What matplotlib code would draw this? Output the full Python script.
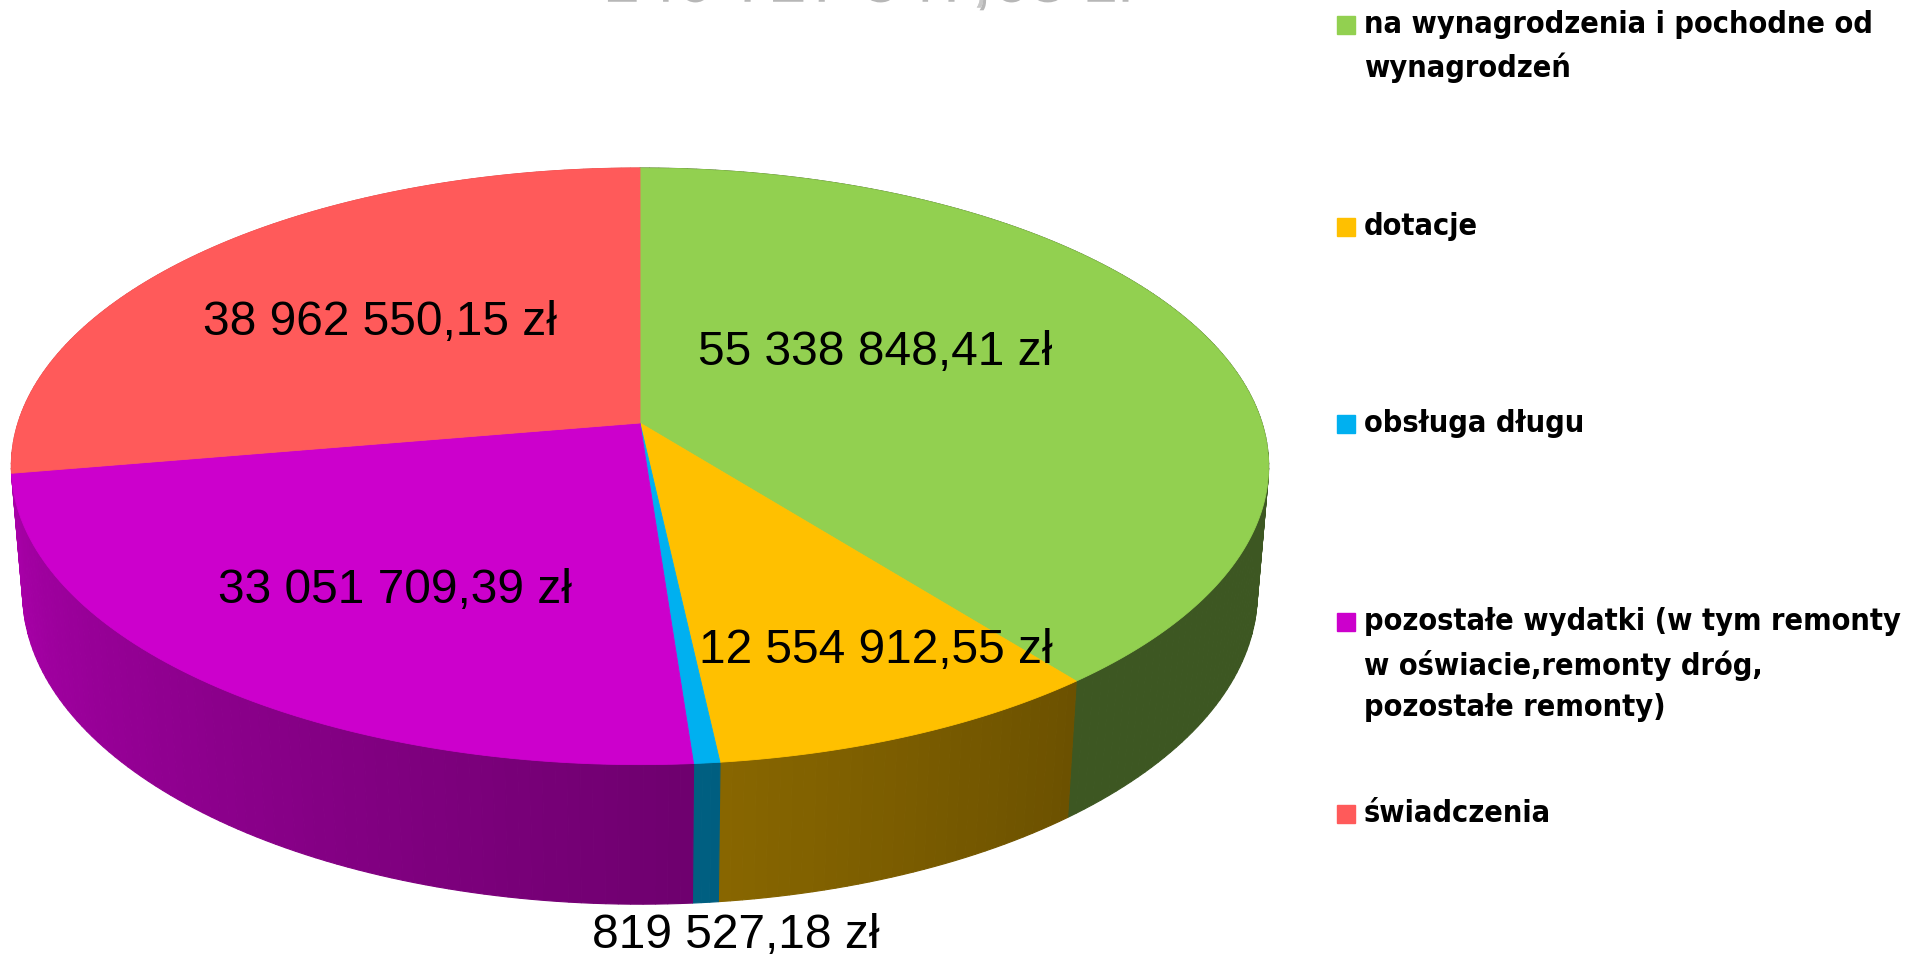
import numpy as np
import matplotlib.pyplot as plt
import matplotlib.patheffects as pe
from matplotlib.patches import Rectangle
from matplotlib.colors import to_rgb
from matplotlib import font_manager

categories = [
    "na wynagrodzenia i pochodne od\nwynagrodzeń",
    "dotacje",
    "obsługa długu",
    "pozostałe wydatki (w tym remonty\nw oświacie,remonty dróg,\npozostałe remonty)",
    "świadczenia",
]
values = [55338848.41, 12554912.55, 819527.18, 33051709.39, 38962550.15]
colors = ["#92D050", "#FFC000", "#00B0F0", "#CC00CC", "#FF5A5A"]


def pln(v):
    return f"{v:,.2f}".replace(",", " ").replace(".", ",") + " zł"


# 3D pie geometry (pixel space of a 1913x955 canvas)
W, H = 1913, 955
cx, cy, scale = 640, 423, 622
elev = np.radians(28)
dist = 6.08
depth = 0.233


def project(theta, z):
    x, y = np.sin(theta), np.cos(theta)
    v = y * np.sin(elev) + z * np.cos(elev)
    w = y * np.cos(elev) - z * np.sin(elev)
    f = dist / (dist + w)
    return cx + scale * x * f, cy - scale * v * f, w


def shade(deg):
    t = np.clip((deg - 141) / (265 - 141), 0, 1)
    return 0.42 + 0.43 * t


fig = plt.figure(figsize=(W / 100, H / 100), dpi=100)
ax = fig.add_axes([0, 0, 1, 1])
ax.set_xlim(0, W)
ax.set_ylim(H, 0)
ax.axis("off")

frac = np.array(values) / np.sum(values)
edges = np.concatenate([[0], np.cumsum(frac)]) * 2 * np.pi

# side walls, split into thin strips for the shading gradient
strips = []
for i, col in enumerate(colors):
    t0, t1 = edges[i], edges[i + 1]
    n = max(2, int(np.ceil(np.degrees(t1 - t0))))
    ts = np.linspace(t0, t1, n + 1)
    for a, b in zip(ts[:-1], ts[1:]):
        xa, ya, _ = project(a, 0)
        xb, yb, _ = project(b, 0)
        xa2, ya2, _ = project(a, -depth)
        xb2, yb2, _ = project(b, -depth)
        wm = project((a + b) / 2, -depth / 2)[2]
        c = np.array(to_rgb(col)) * shade(np.degrees((a + b) / 2))
        strips.append((wm, [xa, xb, xb2, xa2], [ya, yb, yb2, ya2], c))
for wm, xs, ys, c in sorted(strips, key=lambda s: -s[0]):
    ax.fill(xs, ys, color=c, lw=0.8, ec=c)

# top faces
for i, col in enumerate(colors):
    ts = np.linspace(edges[i], edges[i + 1], 200)
    px, py, _ = project(ts, 0)
    ax.fill(np.r_[cx, px], np.r_[cy, py], color=col, ec=col, lw=0.6)

# value labels
label_pos = [(875, 365), (876, 663), (736, 948), (395, 603), (380, 335)]
for v, (lx, ly) in zip(values, label_pos):
    ax.text(lx, ly, pln(v), ha="center", va="baseline", fontsize=34.5,
            family="Liberation Sans", color="black")

# title (mostly cut off at the top)
ax.text(865, -1, pln(sum(values)), ha="center", va="baseline", fontsize=48,
        family="Liberation Sans", color="#C8C8C8",
        path_effects=[pe.withSimplePatchShadow(offset=(2, -2), shadow_rgbFace="#707070", alpha=0.5),
                      pe.Normal()])

# legend
names = {f.name for f in font_manager.fontManager.ttflist}
leg_family = "Liberation Sans Narrow" if "Liberation Sans Narrow" in names else "DejaVu Sans"
leg_base = np.linspace(35, 824, len(categories)) + np.array([0, 5, 4, 5, 0])
for lab, col, yb in zip(categories, colors, leg_base):
    ax.add_patch(Rectangle((1337, yb - 19), 18, 18, color=col))
    ax.text(1364, yb - 25, lab, ha="left", va="top", fontsize=22,
            family=leg_family, weight="bold", fontstretch="condensed",
            linespacing=1.55, color="black")

fig.savefig("out.png", dpi=100)
